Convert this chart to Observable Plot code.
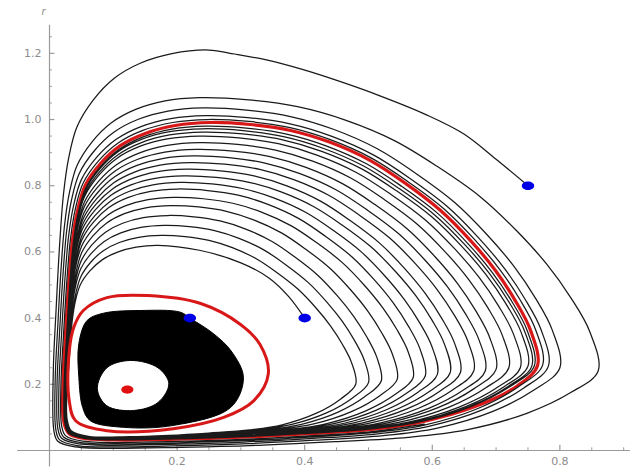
<!DOCTYPE html>
<html><head><meta charset="utf-8">
<script src="https://cdn.jsdelivr.net/npm/d3@7"></script>
<script src="https://cdn.jsdelivr.net/npm/@observablehq/plot@0.6"></script>
<style>body{margin:0;background:#fff}</style>
</head><body><div id="chart"></div>
<script>
// ---------- tick values ----------
const xTicks = [0.2, 0.4, 0.6, 0.8];
const yTicks = [0.2, 0.4, 0.6, 0.8, 1.0, 1.2];
const xMinor = [0.05,0.1,0.15,0.25,0.3,0.35,0.45,0.5,0.55,0.65,0.7,0.75,0.85,0.9];
const yMinor = [0.05,0.1,0.15,0.25,0.3,0.35,0.45,0.5,0.55,0.65,0.7,0.75,0.85,0.9,0.95,1.05,1.1,1.15,1.25];

// ---------- special points ----------
const startPoints = [[0.75, 0.80], [0.40, 0.40], [0.22, 0.40]];   // blue
const equilibrium = [[0.122, 0.184]];                              // red

// ---------- large limit cycle ----------
const bigCycle = [[0.765,0.257],[0.754,0.363],[0.730,0.453],[0.699,0.544],[0.660,0.634],[0.613,0.725],
  [0.558,0.807],[0.503,0.876],[0.440,0.931],[0.378,0.967],[0.315,0.985],[0.252,0.991],[0.197,0.982],
  [0.150,0.958],[0.111,0.921],[0.080,0.867],[0.056,0.801],[0.044,0.725],[0.036,0.634],[0.030,0.50],
  [0.025,0.35],[0.021,0.2],[0.022,0.09],[0.03,0.052],[0.05,0.038],[0.1,0.032],[0.2,0.034],[0.3,0.04],
  [0.4,0.05],[0.5,0.063],[0.58,0.085],[0.67,0.135],[0.733,0.195]];

// ---------- small limit cycle ----------
const smallCycle = [[0.343,0.232],[0.33,0.32],[0.30,0.38],[0.237,0.444],[0.154,0.468],[0.09,0.462],
  [0.053,0.423],[0.038,0.372],[0.031,0.3],[0.031,0.15],[0.041,0.09],[0.09,0.06],[0.194,0.066],
  [0.273,0.1],[0.32,0.15]];

// ---------- dense inner band (trajectory from (0.22,0.4)) ----------
const bandOuter = [[0.304,0.22],[0.285,0.30],[0.257,0.353],[0.221,0.399],[0.205,0.418],[0.143,0.423],
  [0.085,0.415],[0.059,0.393],[0.046,0.323],[0.046,0.22],[0.052,0.13],[0.064,0.09],[0.116,0.07],
  [0.195,0.076],[0.284,0.13]];
const bandHole = [[0.187,0.202],[0.17,0.25],[0.127,0.272],[0.09,0.25],[0.075,0.187],[0.09,0.135],
  [0.132,0.121],[0.17,0.145]];

// ---------- loop outline of the big cycle, as relative positions ----------
const upArc = [[.979,.144],[.932,.267],[.871,.391],[.795,.514],[.704,.638],[.596,.749],[.489,.843],
  [.366,.918],[.246,.967],[.123,.992]];
const leftArc = [[.763,.991],[.56,.967],[.392,.929],[.259,.875],[.155,.808],[.103,.732],[.069,.64],
  [.043,.505],[.022,.353],[.004,.2]];
const cornerArc = [[.002,.05],[.008,.02],[.035,.003]];
const bottomArc = [[.26,.01],[.39,.036],[.52,.08],[.654,.138],[.76,.235],[.87,.45],[.95,.72]];

// ---------- trajectory from (0.75,0.8): spirals inward ----------
const t1Start = [[0.75,0.80],[0.70,0.88],[0.649,0.957],[0.59,1.015],[0.52,1.07],[0.455,1.115],
  [0.395,1.152],[0.34,1.18],[0.29,1.198]];
const t1RightX = [null, 0.86, 0.80, 0.782, 0.773];
const t1RightY = [null, 0.24, 0.25, 0.255, 0.258];
const t1PeakX  = [0.25, 0.235, 0.24, 0.245, 0.248];
const t1PeakY  = [1.21, 1.066, 1.035, 1.012, 1.0];
const t1LeftX  = [0.005, 0.008, 0.011, 0.014, 0.017];
const t1BottomY= [0.008, 0.012, 0.017, 0.021, 0.025];

// ---------- trajectory from (0.4,0.4): spirals outward ----------
const t2Start = [[0.40,0.40],[0.375,0.465],[0.345,0.52],[0.30,0.567],[0.235,0.605]];
const t2RightX = [null,.48,.50,.52,.545,.57,.589,.608,.628,.644,.665,.683,.70,.72,.738,.75,.756,.76];
const t2RightY = [null,.2,.205,.21,.215,.22,.225,.23,.235,.235,.24,.24,.245,.25,.25,.255,.255,.256];
const t2PeakX  = [.17,.175,.18,.185,.19,.195,.2,.205,.21,.215,.22,.225,.23,.235,.235,.24,.24,.245];
const t2PeakY  = [.62,.65,.68,.71,.74,.765,.79,.81,.83,.85,.87,.89,.91,.93,.95,.962,.972,.98];
const t2LeftX  = [.026,.026,.025,.025,.025,.024,.024,.024,.023,.023,.023,.023,.022,.022,.022,.022,.022,.022];
const t2BottomY= [.04,.04,.039,.039,.038,.038,.037,.037,.036,.036,.035,.035,.034,.034,.033,.033,.033,.033];

function buildTraj(id, start, rx, ry, px, py, lx, by) {
  const pts = start.map(([x, y]) => ({id, x, y}));
  const n = px.length;
  for (let k = 0; k < n; k++) {
    if (k > 0) {
      pts.push({id, x: rx[k], y: ry[k]});
      for (const [u, v] of upArc) pts.push({id, x: px[k] + u * (rx[k] - px[k]), y: ry[k] + v * (py[k] - ry[k])});
    }
    pts.push({id, x: px[k], y: py[k]});
    for (const [a, f] of leftArc) pts.push({id, x: lx[k] + a * (px[k] - lx[k]), y: f * py[k]});
    for (const [dx, dy] of cornerArc) pts.push({id, x: lx[k] + dx, y: by[k] + dy});
    const last = k + 1 >= n;
    const nx = last ? rx[k] : rx[k + 1], ny = last ? ry[k] : ry[k + 1];
    for (const [a, b] of bottomArc) {
      if (last && a > 0.8) break;
      pts.push({id, x: a * nx, y: by[k] + b * (ny - by[k])});
    }
  }
  return pts;
}
const traj = [
  ...buildTraj("t2", t2Start, t2RightX, t2RightY, t2PeakX, t2PeakY, t2LeftX, t2BottomY),
  ...buildTraj("t1", t1Start, t1RightX, t1RightY, t1PeakX, t1PeakY, t1LeftX, t1BottomY)
];

const toXY = arr => arr.map(([x, y]) => ({x, y}));

// elliptical dot symbol (picture is horizontally stretched)
const ellipse = {draw(ctx, size) {
  const r = Math.sqrt(size / Math.PI), rx = r * 1.45, ry = r, k = 0.5523;
  ctx.moveTo(rx, 0);
  ctx.bezierCurveTo(rx, ry * k, rx * k, ry, 0, ry);
  ctx.bezierCurveTo(-rx * k, ry, -rx, ry * k, -rx, 0);
  ctx.bezierCurveTo(-rx, -ry * k, -rx * k, -ry, 0, -ry);
  ctx.bezierCurveTo(rx * k, -ry, rx, -ry * k, rx, 0);
  ctx.closePath();
}};

const axisColor = "#9a9a9a", labelColor = "#8c8c8c";
const chart = Plot.plot({
  width: 643, height: 468,
  marginLeft: 17.1, marginRight: 13, marginTop: 24.7, marginBottom: 1.45,
  x: {domain: [-0.05, 0.9107], axis: null},
  y: {domain: [-0.05, 1.285], axis: null},
  style: {background: "#fff", fontFamily: "DejaVu Sans, sans-serif"},
  marks: [
    Plot.ruleX([0], {y1: -0.05, y2: 1.285, stroke: axisColor, strokeWidth: 1.2}),
    Plot.ruleY([0], {x1: -0.05, x2: 0.9107, stroke: axisColor, strokeWidth: 1.2}),
    Plot.ruleX(xTicks, {x: d => d, y1: 0, y2: 0.016, stroke: axisColor, strokeWidth: 1.2}),
    Plot.ruleX(xMinor, {x: d => d, y1: 0, y2: 0.008, stroke: axisColor, strokeWidth: 1}),
    Plot.ruleY(yTicks, {y: d => d, x1: 0, x2: 0.0085, stroke: axisColor, strokeWidth: 1.2}),
    Plot.ruleY(yMinor, {y: d => d, x1: 0, x2: 0.0045, stroke: axisColor, strokeWidth: 1}),
    Plot.text(xTicks, {x: d => d, y: 0, dy: 11, text: d => d.toFixed(1), fill: labelColor, fontSize: 11, style: "letter-spacing:2px"}),
    Plot.text(yTicks, {x: 0, y: d => d, dx: -8, text: d => d.toFixed(1), textAnchor: "end", fill: labelColor, fontSize: 11, style: "letter-spacing:2px"}),
    Plot.text(["r"], {x: 0, y: 1.285, dx: -6, dy: -13, text: d => d, fill: labelColor, fontSize: 10, fontStyle: "italic"}),
    Plot.line(toXY(bigCycle), {x: "x", y: "y", curve: "catmull-rom-closed", stroke: "#d81818", strokeWidth: 3.2}),
    Plot.line(traj, {x: "x", y: "y", z: "id", curve: "catmull-rom", stroke: "#1a1a1a", strokeWidth: 1.25}),
    Plot.line(toXY(bandOuter), {x: "x", y: "y", curve: "catmull-rom-closed", fill: "#000", stroke: "#000", strokeWidth: 1}),
    Plot.line(toXY(bandHole), {x: "x", y: "y", curve: "catmull-rom-closed", fill: "#fff", stroke: "#000", strokeWidth: 1}),
    Plot.line(toXY(smallCycle), {x: "x", y: "y", curve: "catmull-rom-closed", stroke: "#d81818", strokeWidth: 3}),
    Plot.dot(toXY(startPoints), {x: "x", y: "y", r: 4.3, symbol: ellipse, fill: "#0000e6", stroke: "none"}),
    Plot.dot(toXY(equilibrium), {x: "x", y: "y", r: 4.2, symbol: ellipse, fill: "#e01010", stroke: "none"})
  ]
});
document.getElementById("chart").appendChild(chart);
</script>
</body></html>
